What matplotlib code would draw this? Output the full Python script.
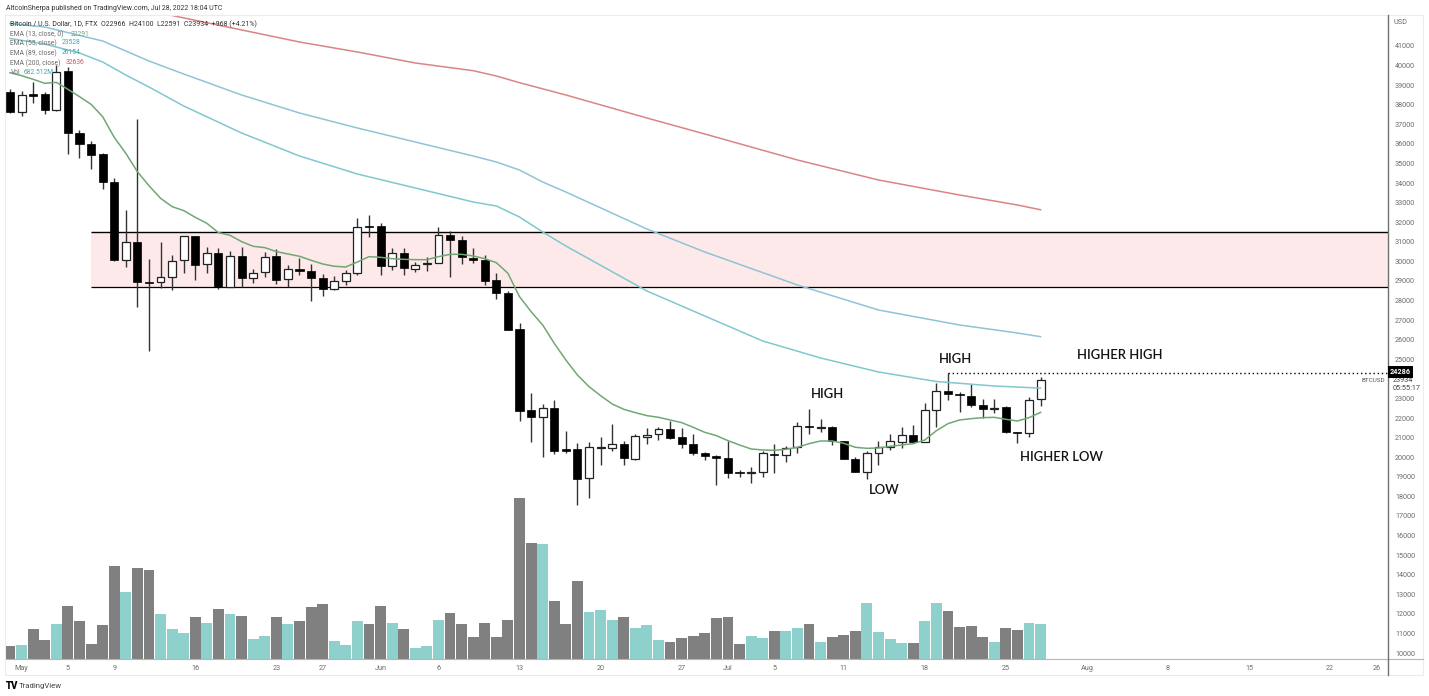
import matplotlib
matplotlib.use("Agg")
import matplotlib.pyplot as plt
from matplotlib.lines import Line2D
from matplotlib.patches import Rectangle

W, H = 1429, 696

# daily candles, Apr 30 -> Jul 28 2022
opens = [38634, 37647, 38549, 38549, 37732, 39723, 36558, 35979, 35485, 34039,
         30056, 31009, 28950, 28933, 29222, 30056, 31298, 29852, 30413, 28677,
         30260, 29137, 29443, 30260, 29086, 29630, 29511, 29137, 28575, 28984,
         29425, 31790, 31790, 29765, 30412, 29629, 29867, 29901, 31348, 31093,
         30174, 30071, 29033, 28386, 26531, 22395, 22072, 22514, 20421, 20404,
         18923, 20489, 20489, 20676, 19927, 21051, 21170, 21425, 21017, 20676,
         20198, 20045, 19960, 19228, 19177, 19228, 20181, 20130, 20505, 21577,
         21509, 21526, 20811, 19926, 19262, 20198, 20539, 20794, 21151, 20777,
         22394, 23364, 23211, 23126, 22649, 22462, 22547, 21271, 21220, 22966]
highs = [38787, 38702, 39162, 38668, 40030, 39911, 36711, 36149, 35519, 34243,
         32626, 37255, 30107, 30992, 30311, 31315, 31298, 30754, 30669, 30533,
         30754, 29613, 30499, 30635, 29818, 30175, 29869, 29341, 29256, 29562,
         32199, 32369, 31944, 30667, 30667, 29952, 30208, 31739, 31569, 31314,
         30667, 30327, 29391, 28506, 26838, 23263, 22719, 22923, 21340, 20710,
         20761, 21017, 21681, 20812, 21170, 21510, 21561, 21868, 21510, 21170,
         20283, 20113, 20828, 19347, 19483, 20334, 20675, 20573, 21815, 22462,
         21934, 21594, 20828, 20028, 20317, 20828, 21168, 21526, 21645, 22751,
         23772, 24286, 23347, 23738, 22955, 22955, 22615, 21288, 23092, 24100]
lows = [37596, 37426, 38106, 37528, 37698, 35485, 35298, 34720, 33698, 30022,
        29733, 27690, 25444, 28660, 28558, 29426, 29052, 29426, 28609, 28677,
        28677, 28916, 29222, 28865, 28677, 29324, 28000, 28252, 28541, 28814,
        29306, 31263, 29306, 29561, 29306, 29476, 29527, 29901, 29220, 29850,
        29935, 28795, 28097, 26514, 21868, 20778, 20030, 20166, 20200, 17562,
        17902, 19587, 20336, 19604, 19859, 20693, 20881, 20949, 20489, 20115,
        19858, 18581, 18956, 18973, 18701, 19007, 19211, 19739, 20198, 21168,
        21287, 20624, 19909, 19228, 18888, 19586, 20368, 20487, 20760, 20760,
        21526, 22921, 22326, 22581, 21985, 22241, 21236, 20709, 21049, 22591]
closes = [37647, 38481, 38464, 37732, 39689, 36541, 35996, 35434, 34039, 30073,
          31009, 28950, 28916, 29222, 30039, 31298, 29835, 30413, 28711, 30260,
          29154, 29426, 30243, 29069, 29630, 29494, 29154, 28609, 28984, 29426,
          31739, 31739, 29765, 30412, 29646, 29833, 29901, 31331, 31110, 30208,
          30054, 29016, 28386, 26514, 22378, 22072, 22497, 20336, 20336, 18906,
          20506, 20506, 20659, 19944, 21068, 21153, 21425, 21000, 20693, 20200,
          20045, 19943, 19211, 19177, 19228, 20198, 20130, 20488, 21611, 21543,
          21543, 20828, 19926, 19262, 20198, 20539, 20811, 21151, 20794, 22394,
          23364, 23211, 23160, 22666, 22445, 22530, 21271, 21220, 22921, 23934]
# volume in millions
volumes = [260, 280, 585, 370, 689, 1034, 748, 286, 670, 1807,
           1313, 1781, 1729, 878, 585, 500, 826, 709, 982, 878,
           845, 397, 455, 826, 689, 741, 1008, 1079, 345, 280,
           748, 689, 1034, 709, 585, 221, 260, 767, 904, 689,
           423, 709, 423, 767, 3140, 2262, 2249, 1138, 683, 1528,
           923, 962, 767, 819, 611, 657, 377, 338, 416, 455,
           500, 793, 819, 286, 449, 416, 553, 553, 611, 683,
           338, 423, 475, 553, 1092, 527, 397, 319, 312, 741,
           1092, 943, 631, 650, 423, 338, 605, 572, 709, 683]
ema13 = [39638, 39485, 39298, 39094, 39145, 38787, 38413, 38021, 37392, 36336,
         35519, 34583, 33868, 33222, 32796, 32592, 32251, 31945, 31469, 31332,
         31009, 30771, 30703, 30499, 30379, 30260, 30056, 29869, 29750, 29716,
         29969, 30242, 30208, 30139, 30105, 30088, 30088, 30242, 30361, 30361,
         30276, 30139, 29935, 29391, 28199, 27433, 26753, 25816, 24966, 24200,
         23604, 23144, 22719, 22446, 22276, 22123, 22038, 21902, 21766, 21527,
         21271, 21100, 20845, 20624, 20420, 20369, 20351, 20402, 20505, 20692,
         20828, 20828, 20709, 20505, 20453, 20471, 20556, 20624, 20692, 20879,
         21356, 21713, 21900, 21968, 22019, 22036, 21934, 21849, 22019, 22291]
ema55_days = [0, 3, 6, 8, 10, 12, 15, 20, 25, 30, 35, 40, 42, 44, 46, 48, 55, 60, 65, 70, 75, 80, 85, 89]
ema55 = [41383, 41102, 40643, 40183, 39519, 38906, 37936, 36557, 35383, 34463, 33748,
         33033, 32829, 32267, 31501, 30786, 28488, 27211, 25935, 25067, 24351, 23866, 23636, 23528]
ema89_days = [0, 3, 8, 12, 15, 20, 25, 30, 35, 40, 42, 44, 46, 48, 55, 60, 68, 75, 82, 87, 89]
ema89 = [42149, 41970, 41255, 40234, 39570, 38498, 37578, 36812, 36097, 35382, 35076,
         34667, 34054, 33544, 31654, 30480, 28795, 27518, 26752, 26343, 26154]
ema200_days = [14, 25, 30, 35, 40, 42, 44, 48, 55, 60, 68, 75, 82, 87, 89]
ema200 = [42558, 41204, 40694, 40132, 39739, 39468, 39126, 38498, 37323, 36506, 35178, 34157,
          33391, 32880, 32636]

zone_low, zone_high = 28690, 31500
zone_start, zone_end = 7.0, 119
last_high = 24286
price_ticks = [p for p in range(10000, 42000, 1000) if p != 24000]
date_ticks = [1, 5, 9, 16, 23, 27, 32, 37, 44, 51, 58, 62, 66, 72, 79, 86, 93, 100, 107, 114, 118]
date_labels = ["May", "5", "9", "16", "23", "27", "Jun", "6", "13", "20", "27",
               "Jul", "5", "11", "18", "25", "Aug", "8", "15", "22", "26"]

UP_VOL = "#8ed0cb"
DOWN_VOL = "#808080"
GREEN = "#6fa874"
TEAL = "#7fc8cf"
BLUE = "#8fc4d6"
RED = "#d98585"
GREY_TXT = "#6b6b6b"

plt.rcParams["font.family"] = ["Roboto", "DejaVu Sans"]


# pixel box -> figure fractions
def px_axes(left, top, right, bottom):
    return [left / W, 1 - bottom / H, (right - left) / W, (bottom - top) / H]


fig = plt.figure(figsize=(W / 100, H / 100), dpi=100, facecolor="white")

# volume pane shares the same box as the price pane
ax_vol = fig.add_axes(px_axes(5, 15, 1388, 659))
ax = fig.add_axes(px_axes(5, 15, 1388, 659), sharex=ax_vol)
ax.patch.set_alpha(0)

days = list(range(len(closes)))
vol_colors = [UP_VOL if c >= o else DOWN_VOL for o, c in zip(opens, closes)]
ax_vol.bar(days, volumes, width=0.94, color=vol_colors, linewidth=0)
ax_vol.set_ylim(0, 12560)
ax_vol.set_yticks([])

# support zone
ax.add_patch(Rectangle((zone_start, zone_low), zone_end - zone_start, zone_high - zone_low,
                       facecolor="#fde9e9", edgecolor="none", zorder=1))
ax.plot([zone_start, zone_end], [zone_high, zone_high], color="black", lw=1.0, zorder=2, solid_capstyle="butt")
ax.plot([zone_start, zone_end], [zone_low, zone_low], color="black", lw=0.9, zorder=2, solid_capstyle="butt")

# candles
ax.vlines(days, lows, highs, color="#333333", lw=1.0, zorder=3)
for d, o, c in zip(days, opens, closes):
    low_body = min(o, c)
    size = max(abs(c - o), 35)
    if c >= o:
        ax.bar(d, size, bottom=low_body, width=0.68, facecolor="white", edgecolor="#222222",
               linewidth=0.9, zorder=4)
    else:
        ax.bar(d, size, bottom=low_body, width=0.7, facecolor="black", edgecolor="black",
               linewidth=0.5, zorder=4)

# EMAs
ax.plot(days, ema13, color=GREEN, lw=1.1, zorder=5)
ax.plot(ema55_days, ema55, color=TEAL, lw=1.1, zorder=5)
ax.plot(ema89_days, ema89, color=BLUE, lw=1.1, zorder=5)
ax.plot(ema200_days, ema200, color=RED, lw=1.1, zorder=5)

# dotted line from the last high
ax.plot([81, 119], [last_high, last_high], color="black", lw=1.0, ls=(0, (1, 2)), zorder=5)

ax.set_xlim(-0.432, 119)
ax.set_ylim(9694, 42583)
ax.yaxis.tick_right()
ax.set_yticks(price_ticks)
ax.set_yticklabels([str(p) for p in price_ticks])
ax.tick_params(axis="y", length=0, pad=5, labelsize=5.2, labelcolor=GREY_TXT)
ax.set_xticks(date_ticks)
ax.set_xticklabels(date_labels)
ax.tick_params(axis="x", length=0, pad=4, labelsize=5.2, labelcolor=GREY_TXT)
ax_vol.tick_params(axis="x", length=0, labelbottom=False)

for a in (ax, ax_vol):
    for s in a.spines.values():
        s.set_visible(False)
ax.spines["bottom"].set_visible(True)
ax.spines["bottom"].set_color("#b5b5b5")
ax.spines["bottom"].set_linewidth(0.8)

# outer frame and price scale line
fig.add_artist(Rectangle((5 / W, 1 - 675 / H), 1418 / W, 660 / H, transform=fig.transFigure,
                         fill=False, edgecolor="#ececec", lw=0.8))
fig.add_artist(Line2D([1423 / W, 1388 / W], [1 - 659 / H, 1 - 659 / H], color="#b5b5b5", lw=0.8))
fig.add_artist(Line2D([1388 / W, 1388 / W], [1 - 15 / H, 1 - 675 / H], color="#707070", lw=1.0))


def label(x, y, s, **kw):
    kw.setdefault("fontsize", 5.2)
    kw.setdefault("color", GREY_TXT)
    kw.setdefault("va", "center")
    fig.text(x / W, 1 - y / H, s, zorder=10, **kw)


label(6, 8, "AltcoinSherpa published on TradingView.com, Jul 28, 2022 18:04 UTC", color="#333333", fontsize=5.0)
label(10, 24, "Bitcoin / U.S. Dollar, 1D, FTX  O22966  H24100  L22591  C23934  +968 (+4.21%)", color="#333333", fontsize=5.0)
label(10, 34, "EMA (13, close, 0)", fontsize=4.9)
label(71, 34, "22291", color=GREEN, fontsize=4.9)
label(10, 43, "EMA (55, close)", fontsize=4.9)
label(62, 43, "23528", color="#45a8b0", fontsize=4.9)
label(10, 53, "EMA (89, close)", fontsize=4.9)
label(62, 53, "26154", color="#45a8b0", fontsize=4.9)
label(10, 63, "EMA (200, close)", fontsize=4.9)
label(66, 63, "32636", color="#d05a5a", fontsize=4.9)
label(11, 73, "Vol", fontsize=4.9)
label(24, 73, "682.512M", color="#45a8b0", fontsize=4.9)

label(1393, 22, "USD")
label(1362, 381, "BTCUSD", color="#555555", fontsize=4.6)
label(1393, 381, "23934", color="#444444")
label(1393, 389, "05:55:17", color="#444444")
label(1390, 372, "24286", color="white", fontweight="bold",
      bbox=dict(boxstyle="square,pad=0.25", facecolor="black", edgecolor="none"))

label(6, 686, "TV", color="black", fontsize=7, fontweight="black")
label(19, 686, "TradingView", color="#444444", fontsize=5.6)

# notes on the chart
note_style = dict(fontsize=9.4, color="#111111", family="Lato", fontweight=600, ha="center")
label(827, 394, "HIGH", **note_style)
label(955, 359, "HIGH", **note_style)
label(884, 490, "LOW", **note_style)
label(1120, 355, "HIGHER HIGH", **note_style)
label(1061, 457, "HIGHER LOW", **note_style)

fig.savefig("out.png", dpi=100)
